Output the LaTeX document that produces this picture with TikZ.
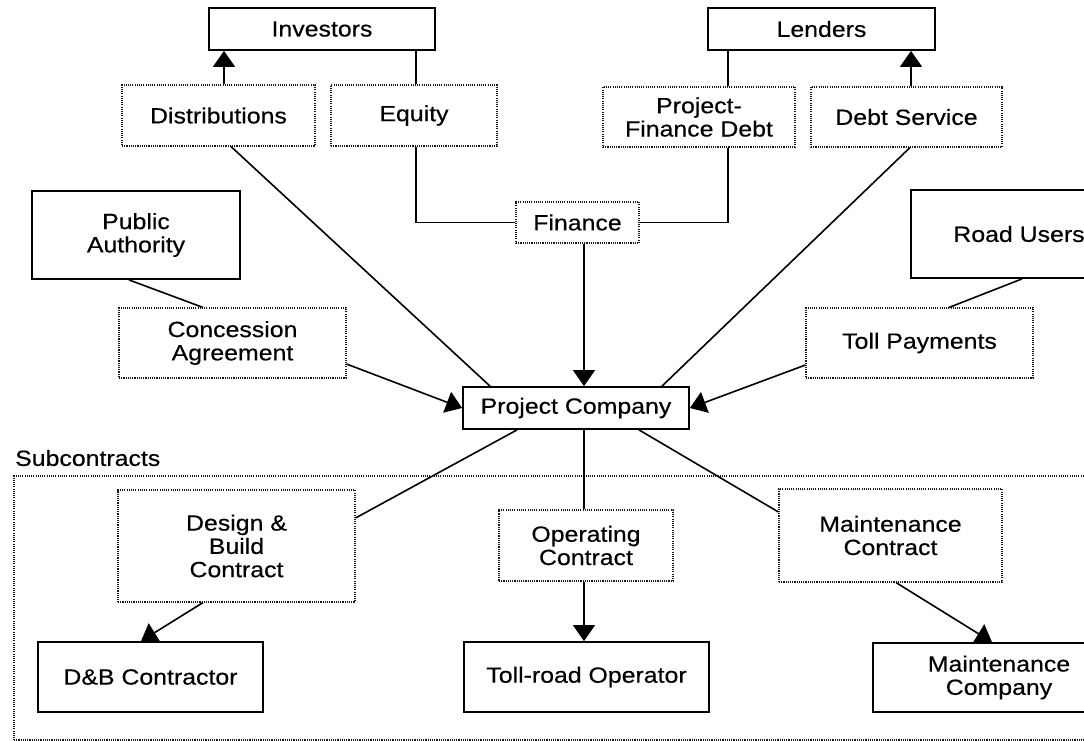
\documentclass[tikz,border=0pt]{standalone}
\usepackage{fontspec}
\setmainfont{Liberation Sans}[FakeStretch=1.13,FakeBold=0.4]
\usetikzlibrary{arrows.meta}

\begin{document}
\begin{tikzpicture}[x=1pt,y=-1pt,
  every node/.style={font=\fontsize{22}{23.3}\selectfont, align=center, inner sep=0pt},
  party/.style n args={2}{draw, line width=1.8pt, minimum width=#1, minimum height=#2},
  deal/.style n args={2}{draw=black!90, line width=1.1pt, dash pattern=on 1.1pt off 1.1pt,
                          minimum width=#1, minimum height=#2},
  link/.style={line width=1.6pt},
  flow/.style={line width=1.6pt, -{Triangle[width=22pt,length=16pt]}},
]
\useasboundingbox (0,0) rectangle (1084,741);

% parties
\node[party={226}{42}] (inv) at (322,29) {Investors};
\node[party={227}{42}] (lend) at (821.5,29) {Lenders};
\node[party={208}{88}] (pa) at (136,235) {Public\\Authority};
\node[party={216}{88}] (ru) at (1019,234) {Road Users};
\node[party={226}{42}] (pc) at (576,408) {Project Company};
\node[party={225}{70}] (dbco) at (150.5,677) {D\&B Contractor};
\node[party={245}{70}] (tro) at (586.5,677) {Toll-road Operator};
\node[party={252}{69}] (mco) at (999,677.5) {Maintenance\\Company};

% agreements and flows
\node[deal={193}{61}] (dist) at (218.5,115.5) {Distributions};
\node[deal={166}{61}] (eq) at (414,115.5) {Equity};
\node[deal={192}{60}] (pfd) at (699,117) {Project-\\Finance Debt};
\node[deal={191}{60}] (ds) at (906.5,117) {Debt Service};
\node[deal={123}{41}] (fin) at (577.5,222.5) {Finance};
\node[deal={227}{70}] (ca) at (232.5,343) {Concession\\Agreement};
\node[deal={227}{70}] (tp) at (919.5,343) {Toll Payments};
\node[deal={237}{112}] (dbc) at (236.5,546) {Design \&\\Build\\Contract};
\node[deal={174}{71}] (oc) at (586,545.5) {Operating\\Contract};
\node[deal={223}{93}] (mc) at (890.5,535.5) {Maintenance\\Contract};

% subcontracts group
\node[deal={1086}{264}] (sub) at (557,608) {};
\node[anchor=west] (sublbl) at (15,458) {Subcontracts};

\coordinate (spine) at (584,0);

% finance side
\draw[flow] ([xshift=5.5pt]dist.north) -- ([xshift=5.5pt]dist.north |- inv.south);
\draw[link] ([xshift=2pt]eq.north) -- ([xshift=2pt]eq.north |- inv.south);
\draw[link] ([xshift=2pt]eq.south) |- (fin.west);
\draw[link] ([xshift=29pt]pfd.north) -- ([xshift=29pt]pfd.north |- lend.south);
\draw[link] ([xshift=29pt]pfd.south) |- (fin.east);
\draw[flow] ([xshift=4.5pt]ds.north) -- ([xshift=4.5pt]ds.north |- lend.south);
\draw[flow] (fin.south -| spine) -- (pc.north -| spine);
\draw[link] ([xshift=12.5pt]dist.south) -- ([xshift=-86pt]pc.north);
\draw[link] ([xshift=3.5pt]ds.south) -- ([xshift=86pt]pc.north);

% concession and tolls
\draw[link] ([xshift=-7pt]pa.south) -- ([xshift=-29.5pt]ca.north);
\draw[flow] ([yshift=-21pt]ca.east) -- (pc.west);
\draw[link] ([xshift=3pt]ru.south) -- ([xshift=29.5pt]tp.north);
\draw[flow] ([yshift=-22pt]tp.west) -- (pc.east);

% subcontracts
\draw[link] ([xshift=-59pt]pc.south) -- ([yshift=28pt]dbc.east);
\draw[flow] ([xshift=-33.5pt]dbc.south) -- ([xshift=-9.5pt]dbco.north);
\draw[link] (pc.south -| spine) -- (oc.north -| spine);
\draw[flow] (oc.south -| spine) -- (tro.north -| spine);
\draw[link] ([xshift=63pt]pc.south) -- ([yshift=23.5pt]mc.west);
\draw[flow] ([xshift=5.5pt]mc.south) -- ([xshift=-7pt]mco.north);
\end{tikzpicture}
\end{document}
